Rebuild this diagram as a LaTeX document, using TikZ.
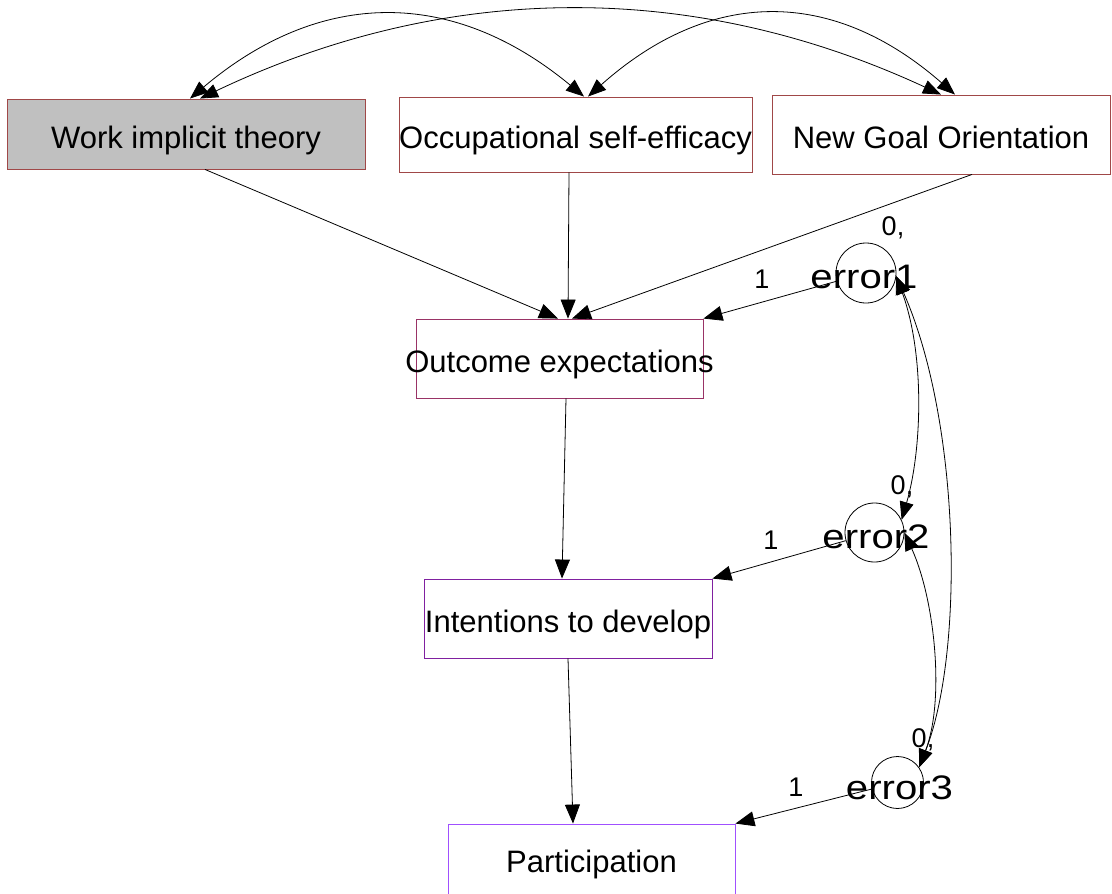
\documentclass[tikz,border=0pt]{standalone}
\usepackage{fontspec}
\usepackage{graphicx}
\setmainfont{Liberation Sans}
\usetikzlibrary{arrows.meta}
\definecolor{grayf}{HTML}{C0C0C0}
\definecolor{redb}{HTML}{A04848}
\definecolor{oeb}{HTML}{993366}
\definecolor{itdb}{HTML}{8020A0}
\definecolor{parb}{HTML}{A050FF}
\begin{document}
\begin{tikzpicture}[x=1pt,y=-1pt,
  box/.style={draw, rectangle, inner sep=0pt, line width=0.9pt, text height=30pt, text depth=2pt, font=\fontsize{31}{36}\selectfont},
  err/.style={draw, circle, inner sep=0pt, line width=0.8pt, text height=32pt, text depth=2pt, font=\fontsize{34}{38}\selectfont},
  lab/.style={inner sep=0pt, font=\fontsize{27}{30}\selectfont},
  arr/.style={line width=0.8pt, -{Triangle[length=19pt,width=15pt]}},
  cov/.style={line width=0.8pt, {Triangle[length=18pt,width=14pt]}-{Triangle[length=18pt,width=14pt]}}]
\useasboundingbox (0,0) rectangle (1112,894);

% observed variables
\node[box, fill=grayf, draw=redb, minimum width=358pt, minimum height=70pt] (wit) at (186,134) {\makebox[0pt]{Work implicit theory}};
\node[box, draw=redb, minimum width=353pt, minimum height=75pt] (occ) at (575.5,134.5) {\makebox[0pt]{Occupational self-efficacy}};
\node[box, draw=redb, minimum width=338pt, minimum height=79pt] (ngo) at (941,134.5) {\makebox[0pt]{New Goal Orientation}};
\node[box, draw=oeb, minimum width=287pt, minimum height=79pt] (oe) at (559.5,358.5) {\makebox[0pt]{Outcome expectations}};
\node[box, draw=itdb, minimum width=288pt, minimum height=79pt] (itd) at (568,618.5) {\makebox[0pt]{Intentions to develop}};
\node[box, draw=parb, minimum width=287pt, minimum height=79pt, text height=19pt] (par) at (591.5,863.5) {\makebox[0pt]{Participation}};

% error terms
\node[err, minimum size=60pt] (e1) at (866,273) {\makebox[0pt]{\hspace{-4pt}\scalebox{1.18}[1]{error1}}};
\node[err, minimum size=59pt, text height=33pt] (e2) at (874.5,532.5) {\makebox[0pt]{\hspace{3pt}\scalebox{1.18}[1]{error2}}};
\node[err, minimum size=52pt, text height=35pt] (e3) at (897.5,782.5) {\makebox[0pt]{\hspace{4pt}\scalebox{1.18}[1]{error3}}};

% labels
\node[lab] (l1) at (762,279) {1};
\node[lab] (z1) at (893,228) {0,};
\node[lab] (l2) at (771,540) {1};
\node[lab] (z2) at (902,487) {0,};
\node[lab] (l3) at (796,787) {1};
\node[lab] (z3) at (923,740) {0,};

% regression paths
\draw[arr] ([xshift=19pt]wit.south) -- ([xshift=-1.5pt]oe.north);
\draw[arr] ([xshift=-6.5pt]occ.south) -- ([xshift=8.5pt]oe.north);
\draw[arr] ([xshift=31pt]ngo.south) -- ([xshift=12.5pt]oe.north);
\draw[arr] (e1) -- (oe.north east);
\draw[arr] ([xshift=6.5pt]oe.south) -- ([xshift=-6pt]itd.north);
\draw[arr] (e2) -- (itd.north east);
\draw[arr] (itd.south) -- ([xshift=-18.5pt]par.north);
\draw[arr] (e3) -- (par.north east);

% covariances
\draw[cov] ([xshift=4pt]wit.north) .. controls (321,-12) and (453,-12) .. ([xshift=8.5pt]occ.north);
\draw[cov] ([xshift=14pt]wit.north) .. controls (447,-19) and (694,-20) .. (ngo.north);
\draw[cov] ([xshift=12.5pt]occ.north) .. controls (710,-12) and (832,-13) .. ([xshift=14pt]ngo.north);
\draw[cov] (e1.-6) .. controls (925,355) and (922,450) .. (e2.25);
\draw[cov] (e1.-6) .. controls (960,420) and (965,650) .. (e3.35);
\draw[cov] (e2.0) .. controls (935,600) and (945,700) .. (e3.35);
\end{tikzpicture}
\end{document}
